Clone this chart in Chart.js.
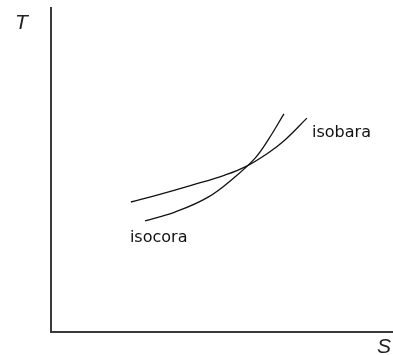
<!DOCTYPE html>
<html>
<head>
<meta charset="utf-8">
<script src="https://cdn.jsdelivr.net/npm/chart.js@4/dist/chart.umd.min.js"></script>
<style>
  html, body { margin: 0; padding: 0; background: #fff; }
  #wrap { width: 393px; height: 355px; position: relative; }
</style>
</head>
<body>
<div id="wrap"><canvas id="ts"></canvas></div>
<script>
// entropia (S) e temperatura (T), unidades arbitrarias
const isobaraS = [2.36, 3.15, 4.14, 5.10, 5.69, 6.36, 6.85, 7.49];
const isobaraT = [4.00, 4.22, 4.52, 4.83, 5.08, 5.51, 5.91, 6.58];

const isocoraS = [2.77, 3.64, 4.61, 5.39, 5.98, 6.36, 6.82];
const isocoraT = [3.42, 3.69, 4.15, 4.77, 5.35, 5.91, 6.71];

// onde ficam os nomes das curvas (S, T da linha de base)
const curveNames = ["isobara", "isocora"];
const namePosS = [7.64, 2.33];
const namePosT = [6.00, 2.77];

const toPoints = (xs, ys) => xs.map((x, i) => ({ x: x, y: ys[i] }));

// eixos em L e rotulos T / S
const axesPlugin = {
  id: "eixos",
  afterDraw(chart) {
    const { ctx, chartArea: a, scales } = chart;
    ctx.save();
    ctx.fillStyle = "#3a3a3a";
    ctx.fillRect(a.left, a.top, 2, a.bottom - a.top + 1);
    ctx.fillRect(a.left, a.bottom - 1, chart.width - a.left, 2);

    ctx.fillStyle = "#222";
    ctx.font = "italic 21px 'Liberation Sans', Arial, sans-serif";
    ctx.textBaseline = "top";
    ctx.fillText("T", a.left - 35, a.top + 6);
    ctx.fillText("S", chart.width - 16, a.bottom + 5);

    ctx.font = "16px 'DejaVu Sans', sans-serif";
    ctx.textBaseline = "alphabetic";
    ctx.fillStyle = "#111";
    curveNames.forEach((name, i) => {
      ctx.fillText(name, scales.x.getPixelForValue(namePosS[i]), scales.y.getPixelForValue(namePosT[i]));
    });
    ctx.restore();
  }
};

new Chart(document.getElementById("ts"), {
  type: "line",
  data: {
    datasets: [
      {
        label: "isobara",
        data: toPoints(isobaraS, isobaraT),
        borderColor: "#111",
        borderWidth: 1.3,
        pointRadius: 0,
        tension: 0.4,
        fill: false,
      },
      {
        label: "isocora",
        data: toPoints(isocoraS, isocoraT),
        borderColor: "#111",
        borderWidth: 1.3,
        pointRadius: 0,
        tension: 0.4,
        fill: false,
      },
    ],
  },
  options: {
    responsive: true,
    maintainAspectRatio: false,
    animation: false,
    layout: { padding: { left: 50, top: 7, right: 0, bottom: 23 } },
    scales: {
      x: { type: "linear", min: 0, max: 10, display: false },
      y: { type: "linear", min: 0, max: 10, display: false },
    },
    plugins: {
      legend: { display: false },
      tooltip: { enabled: false },
    },
  },
  plugins: [axesPlugin],
});
</script>
</body>
</html>
